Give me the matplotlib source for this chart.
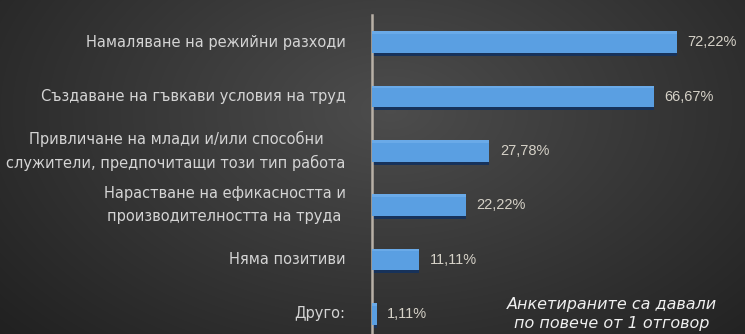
import numpy as np
import matplotlib.pyplot as plt

# Survey answers, top to bottom, and the share of respondents for each
categories = [
    'Намаляване на режийни разходи',
    'Създаване на гъвкави условия на труд',
    'Привличане на млади и/или способни\nслужители, предпочитащи този тип работа',
    'Нарастване на ефикасността и\nпроизводителността на труда',
    'Няма позитиви',
    'Друго:',
]
values = [72.22, 66.67, 27.78, 22.22, 11.11, 1.11]
value_labels = ['72,22%', '66,67%', '27,78%', '22,22%', '11,11%', '1,11%']
note = 'Анкетираните са давали\nпо повече от 1 отговор'

W, H = 745, 334
fig = plt.figure(figsize=(W / 100, H / 100), dpi=100)

# dark radial background
bg = fig.add_axes([0, 0, 1, 1], zorder=0)
yy, xx = np.mgrid[0:H, 0:W]
r = np.sqrt(((xx - 390) / 520.0) ** 2 + ((yy - 110) / 330.0) ** 2)
shade = np.clip(0.30 - 0.17 * r, 0.12, 0.30)
bg.imshow(np.dstack([shade, shade, shade]), aspect='auto', extent=[0, 1, 0, 1])
bg.axis('off')

ax = fig.add_axes([372 / W, 0, 330 / W, 319 / H], zorder=1)
ax.patch.set_alpha(0)

pos = np.arange(len(values))
# shadow under each bar, then the bar itself
ax.barh(pos + 0.055, values, height=0.40, color='#17325a', zorder=2)
ax.barh(pos, values, height=0.40, color='#5a9fe2', zorder=3)
ax.barh(pos - 0.175, values, height=0.05, color='#6aaae8', zorder=4)

for p, v, lab in zip(pos, values, value_labels):
    ax.text(v + 2.5, p, lab, va='center', ha='left', fontsize=10.5,
            color='#d6d2c8', family='Liberation Sans')

ax.set_xlim(0, 330 / 4.225)
ax.set_ylim(5.37, -0.5)
ax.set_yticks(pos)
ax.set_yticklabels(categories, fontsize=10.5, color='#d4d4d4',
                   multialignment='center', linespacing=1.65)
for t in ax.get_yticklabels():
    t.set_verticalalignment('center')
ax.tick_params(axis='y', length=0, pad=19)
ax.set_xticks([])
for side in ['top', 'right', 'bottom']:
    ax.spines[side].set_visible(False)
ax.spines['left'].set_color('#b8b0a6')
ax.spines['left'].set_linewidth(1.8)

fig.text(612 / W, 1 - 314 / H, note, ha='center', va='center', fontsize=11.5,
         style='italic', color='#f0f0f0', linespacing=1.3)

fig.savefig('out.png', dpi=100)
